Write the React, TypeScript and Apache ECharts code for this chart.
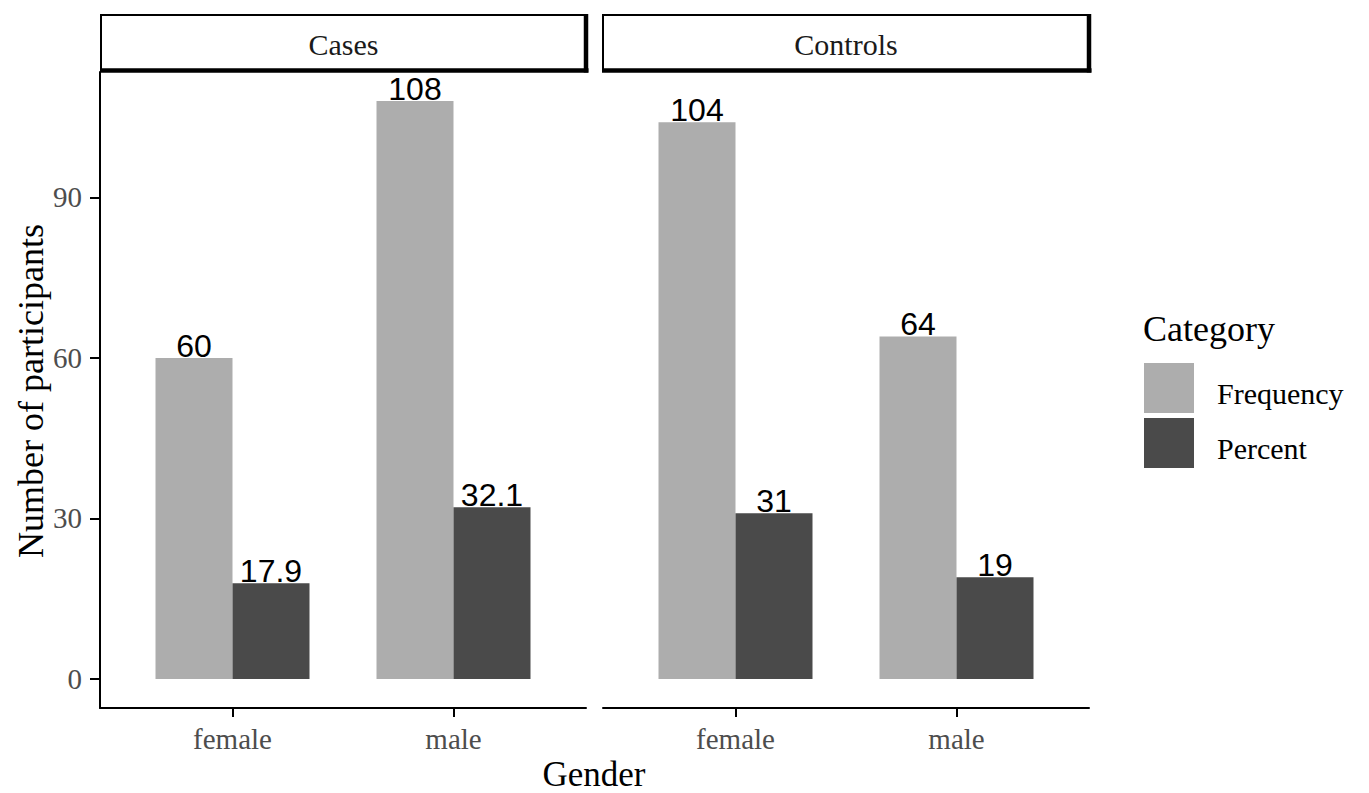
import React, { useEffect, useRef } from "react";
import * as echarts from "echarts";

const panels = ["Cases", "Controls"];
const genders = ["female", "male"];
const seriesNames = ["Frequency", "Percent"];
const casesFrequency = [60, 108];
const casesPercent = [17.9, 32.1];
const controlsFrequency = [104, 64];
const controlsPercent = [31, 19];
const yTicks = [0, 30, 60, 90];
const yTitle = "Number of participants";
const xTitle = "Gender";
const legendTitle = "Category";

const colors = ["#ADADAD", "#4A4A4A"];
const SERIF = "'Liberation Serif', 'Times New Roman', serif";
const SANS = "'Liberation Sans', Arial, sans-serif";

export default function App() {
  const ref = useRef<HTMLDivElement>(null);
  useEffect(() => {
    if (!ref.current) return;
    const chart = echarts.init(ref.current, null, { renderer: "svg" });
    const yMin = -5.4;
    const yMax = 113.4;
    const top = 72;
    const height = 636;
    const inner = [
      { left: 122, top, width: 442, height },
      { left: 625, top, width: 442, height },
    ];
    const outer = [
      { left: 100, top, width: 486, height },
      { left: 603, top, width: 486, height },
    ];
    const label = {
      show: true,
      position: "top",
      distance: -4,
      fontFamily: SANS,
      fontSize: 32,
      color: "#000",
      formatter: "{c}",
    };
    const mkBar = (name: string, data: number[], idx: number, ci: number) => ({
      type: "bar",
      name,
      data,
      xAxisIndex: idx,
      yAxisIndex: idx,
      barWidth: 77,
      barGap: "0%",
      itemStyle: { color: colors[ci] },
      label,
    });
    const catAxis = (gi: number) => ({
      type: "category",
      gridIndex: gi,
      data: genders,
      boundaryGap: true,
      axisLine: { show: false, onZero: false },
      axisTick: {
        show: true,
        alignWithLabel: true,
        length: 9,
        lineStyle: { color: "#000", width: 2 },
      },
      axisLabel: {
        margin: 16,
        fontFamily: SERIF,
        fontSize: 29,
        color: "#4D4D4D",
      },
      splitLine: { show: false },
    });
    const lineAxis = (gi: number) => ({
      type: "value",
      gridIndex: gi,
      min: 0,
      max: 1,
      axisLine: { show: true, onZero: false, lineStyle: { color: "#000", width: 2 } },
      axisTick: { show: false },
      axisLabel: { show: false },
      splitLine: { show: false },
    });
    const stripGraphics: any[] = [];
    const stripBoxes = [
      { x0: 101, x1: 586 },
      { x0: 603, x1: 1089 },
    ];
    stripBoxes.forEach((b, i) => {
      stripGraphics.push({
        type: "rect",
        shape: { x: b.x0, y: 15, width: b.x1 - b.x0, height: 56 },
        style: { fill: "#fff", stroke: "#000", lineWidth: 2 },
      });
      stripGraphics.push({
        type: "line",
        shape: { x1: b.x0 - 1, y1: 70.5, x2: b.x1 + 2.5, y2: 70.5 },
        style: { stroke: "#000", lineWidth: 4.5 },
      });
      stripGraphics.push({
        type: "line",
        shape: { x1: b.x1, y1: 14, x2: b.x1, y2: 72.5 },
        style: { stroke: "#000", lineWidth: 4.5 },
      });
      stripGraphics.push({
        type: "text",
        x: (b.x0 + b.x1) / 2,
        y: 44,
        style: {
          text: panels[i],
          fontFamily: SERIF,
          fontSize: 30,
          fill: "#1A1A1A",
          align: "center",
          verticalAlign: "middle",
        },
      });
    });
    chart.setOption({
      animation: false,
      backgroundColor: "#fff",
      grid: [...inner, ...outer],
      xAxis: [catAxis(0), catAxis(1), lineAxis(2), lineAxis(3)],
      yAxis: [
        {
          type: "value",
          gridIndex: 0,
          min: yMin,
          max: yMax,
          offset: 22,
          axisLine: { show: true, lineStyle: { color: "#000", width: 2 } },
          axisTick: {
            show: true,
            length: 10,
            customValues: yTicks,
            lineStyle: { color: "#000", width: 2 },
          },
          axisLabel: {
            customValues: yTicks,
            margin: 18,
            fontFamily: SERIF,
            fontSize: 29,
            color: "#4D4D4D",
          },
          splitLine: { show: false },
        },
        { type: "value", gridIndex: 1, min: yMin, max: yMax, show: false },
        { type: "value", gridIndex: 2, min: 0, max: 1, show: false },
        { type: "value", gridIndex: 3, min: 0, max: 1, show: false },
      ],
      legend: {
        data: seriesNames,
        orient: "vertical",
        left: 1144,
        top: 363,
        padding: 0,
        itemWidth: 50,
        itemHeight: 50,
        itemGap: 5,
        icon: "rect",
        selectedMode: false,
        formatter: "{a|{name}}",
        textStyle: {
          fontFamily: SERIF,
          fontSize: 30,
          color: "#000",
          rich: {
            a: {
              fontFamily: SERIF,
              fontSize: 30,
              color: "#000",
              padding: [10, 0, 0, 18],
            },
          },
        },
      },
      graphic: [
        ...stripGraphics,
        {
          type: "text",
          x: 31,
          y: 391,
          rotation: Math.PI / 2,
          style: {
            text: yTitle,
            fontFamily: SERIF,
            fontSize: 36,
            fill: "#000",
            align: "center",
            verticalAlign: "middle",
          },
        },
        {
          type: "text",
          x: 594,
          y: 774,
          style: {
            text: xTitle,
            fontFamily: SERIF,
            fontSize: 35,
            fill: "#000",
            align: "center",
            verticalAlign: "middle",
          },
        },
        {
          type: "text",
          x: 1143,
          y: 329,
          style: {
            text: legendTitle,
            fontFamily: SERIF,
            fontSize: 36,
            fill: "#000",
            align: "left",
            verticalAlign: "middle",
          },
        },
      ],
      series: [
        mkBar(seriesNames[0], casesFrequency, 0, 0),
        mkBar(seriesNames[1], casesPercent, 0, 1),
        mkBar(seriesNames[0], controlsFrequency, 1, 0),
        mkBar(seriesNames[1], controlsPercent, 1, 1),
      ],
    });
    return () => chart.dispose();
  }, []);
  return (
    <div
      ref={ref}
      style={{ position: "fixed", left: 0, top: 0, width: 1369, height: 793 }}
    />
  );
}
